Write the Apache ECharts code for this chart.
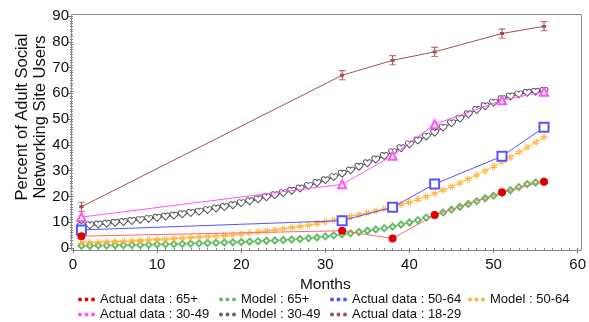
<!DOCTYPE html>
<html>
<head>
<meta charset="utf-8">
<script src="https://cdn.jsdelivr.net/npm/echarts@6/dist/echarts.min.js"></script>
<style>html,body{margin:0;padding:0;background:#fff}#c{width:589px;height:322px}</style>
</head>
<body>
<div id="c"></div>
<script>
// ---- data ----
var surveyMonths = [1, 32, 38, 43, 51, 56];
var modelMonths = [1,2,3,4,5,6,7,8,9,10,11,12,13,14,15,16,17,18,19,20,21,22,23,24,25,26,27,28,
  29,30,31,32,33,34,35,36,37,38,39,40,41,42,43,44,45,46,47,48,49,50,51,52,53,54,55,56];

var actual65 = [4.6, 6.7, 3.7, 12.8, 21.6, 25.7];
var actual5064 = [7.0, 10.6, 15.8, 24.8, 35.6, 46.8];
var actual3049 = [12.0, 24.7, 35.8, 48.0, 57.3, 60.6];
var actual1829 = [16.0, 67.0, 72.8, 76.1, 83.2, 86.0];

var model65 = [0.9,0.9,1.0,1.0,1.1,1.1,1.2,1.2,1.3,1.4,1.5,1.5,1.6,1.7,1.8,1.9,2.0,2.1,2.2,2.3,
  2.5,2.6,2.8,2.9,3.1,3.3,3.5,3.8,4.1,4.5,4.9,5.3,5.7,6.2,6.7,7.2,7.7,8.3,9.1,9.9,10.8,11.8,
  12.8,13.8,14.9,16.0,17.1,18.2,19.3,20.3,21.3,22.4,23.6,24.8,25.4,25.8];
var model5064 = [2.0,2.1,2.2,2.4,2.5,2.6,2.8,2.9,3.1,3.3,3.4,3.6,3.8,4.0,4.2,4.4,4.6,4.8,5.1,5.4,
  5.8,6.2,6.6,7.0,7.4,7.9,8.4,8.9,9.5,10.1,10.8,11.5,12.2,12.9,13.6,14.4,15.1,15.9,16.8,17.7,
  18.8,19.9,21.2,22.5,23.8,25.2,26.7,28.3,29.9,31.6,33.4,35.2,37.1,39.0,41.0,43.0];
var model3049 = [8.5,8.8,9.1,9.4,9.8,10.1,10.5,10.9,11.3,11.7,12.2,12.6,13.1,13.6,14.1,14.7,15.3,
  15.9,16.6,17.4,18.1,18.9,19.7,20.5,21.3,22.2,23.1,24.1,25.2,26.3,27.5,28.8,30.1,31.5,32.9,34.3,
  35.7,37.2,38.7,40.2,41.7,43.2,44.7,46.7,48.4,50.2,51.9,53.5,55.0,56.4,57.7,58.8,59.6,60.2,60.6,60.9];

var seriesNames = ['Actual data : 65+', 'Model : 65+', 'Actual data : 50-64', 'Model : 50-64',
  'Actual data : 30-49', 'Model : 30-49', 'Actual data : 18-29'];
var xLabelTicks = [0, 10, 20, 30, 40, 50, 60];
var yLabelTicks = [0, 10, 20, 30, 40, 50, 60, 70, 80, 90];
var yTitle = 'Percent of Adult Social\nNetworking Site Users';
var xTitle = 'Months';

// ---- helpers ----
function pairs(xs, ys) { return xs.map(function (x, i) { return [x, ys[i]]; }); }

var FONT = '"Liberation Sans", Arial, sans-serif';
var heart = 'path://M10,18 L2.2,9.8 C-0.8,6.5 0.8,1 5,1 C7.4,1 9,2.4 10,4 C11,2.4 12.6,1 15,1 C19.2,1 20.8,6.5 17.8,9.8 Z';
var hash = 'path://M3,0h1.3v10h-1.3z M5.7,0h1.3v10h-1.3z M0,3h10v1.3h-10z M0,5.7h10v1.3h-10z';
var errBar = 'path://M1,0h8v1.2h-8z M4.4,0h1.2v14h-1.2z M1,12.8h8v1.2h-8z M2.6,5h4.8v4h-4.8z';
var dots = 'path://M2,0A2,2 0 1,1 2,4A2,2 0 1,1 2,0Z M8.5,0A2,2 0 1,1 8.5,4A2,2 0 1,1 8.5,0Z M15,0A2,2 0 1,1 15,4A2,2 0 1,1 15,0Z';

var colors = ['#e00000', '#66bb66', '#5555ff', '#ffb43c', '#ff55ff', '#666666', '#a85050'];

var chart = echarts.init(document.getElementById('c'), null, { renderer: 'canvas' });

function legendBlock(left, names) {
  return {
    orient: 'vertical', left: left, top: 292, itemGap: 0, itemWidth: 17, itemHeight: 4,
    padding: 0, selectedMode: false,
    textStyle: { fontFamily: FONT, fontSize: 13, color: '#111', lineHeight: 15 },
    data: names.map(function (n) {
      var i = seriesNames.indexOf(n);
      return { name: n, icon: dots, itemStyle: { color: colors[i], borderWidth: 0 } };
    })
  };
}

var option = {
  animation: false,
  backgroundColor: '#fff',
  grid: { left: 73, right: 8, top: 16, bottom: 74, containLabel: false },
  xAxis: {
    type: 'value', min: 0, max: 60, interval: 10, offset: 3,
    name: xTitle, nameLocation: 'middle', nameGap: 23,
    nameTextStyle: { fontFamily: FONT, fontSize: 15.5, color: '#111' },
    axisLine: { show: false },
    axisTick: { show: true, length: 5, lineStyle: { color: '#777' } },
    minorTick: { show: true, splitNumber: 10, length: 3, lineStyle: { color: '#888' } },
    splitLine: { show: false },
    axisLabel: { fontFamily: FONT, fontSize: 15, color: '#111', margin: 6,
      formatter: function (v) { return xLabelTicks.indexOf(v) >= 0 ? String(v) : ''; } }
  },
  yAxis: {
    type: 'value', min: 0, max: 90, interval: 10, offset: 1,
    axisLine: { show: false },
    axisTick: { show: true, length: 5, lineStyle: { color: '#777' } },
    minorTick: { show: true, splitNumber: 10, length: 3, lineStyle: { color: '#888' } },
    splitLine: { show: false },
    axisLabel: { fontFamily: FONT, fontSize: 15, color: '#111', margin: 3,
      formatter: function (v) { return yLabelTicks.indexOf(v) >= 0 ? String(v) : ''; } }
  },
  legend: [
    legendBlock(78, [seriesNames[0], seriesNames[4]]),
    legendBlock(219, [seriesNames[1], seriesNames[5]]),
    legendBlock(330, [seriesNames[2], seriesNames[6]]),
    legendBlock(468, [seriesNames[3]])
  ],
  graphic: [
    { type: 'rect', z: 10, silent: true,
      shape: { x: 71.5, y: 14.5, width: 510, height: 236 },
      style: { fill: 'none', stroke: '#8a8a8a', lineWidth: 1 } },
    { type: 'text', x: 31, y: 117, rotation: Math.PI / 2, silent: true,
      style: { text: yTitle, font: '16.5px ' + FONT, fontSize: 16.5, fontFamily: FONT,
        fill: '#111', textAlign: 'center', textVerticalAlign: 'middle',
        align: 'center', verticalAlign: 'middle', lineHeight: 18 } }
  ],
  series: [
    { name: seriesNames[1], type: 'line', z: 3, data: pairs(modelMonths, model65),
      symbol: 'emptyDiamond', symbolSize: 6,
      lineStyle: { color: colors[1], width: 1 }, itemStyle: { color: colors[1], borderWidth: 1 } },
    { name: seriesNames[3], type: 'line', z: 3, data: pairs(modelMonths, model5064),
      symbol: hash, symbolSize: 7,
      lineStyle: { color: colors[3], width: 1 }, itemStyle: { color: colors[3] } },
    { name: seriesNames[5], type: 'line', z: 3, data: pairs(modelMonths, model3049),
      symbol: heart, symbolSize: [8, 7],
      lineStyle: { color: '#444', width: 1 }, itemStyle: { color: '#fff', borderColor: '#555', borderWidth: 1 } },
    { name: seriesNames[2], type: 'line', z: 4, data: pairs(surveyMonths, actual5064),
      symbol: 'emptyRect', symbolSize: 9,
      lineStyle: { color: colors[2], width: 1 }, itemStyle: { color: colors[2], borderWidth: 1 } },
    { name: seriesNames[4], type: 'line', z: 4, data: pairs(surveyMonths, actual3049),
      symbol: 'emptyTriangle', symbolSize: 8,
      lineStyle: { color: colors[4], width: 1 }, itemStyle: { color: colors[4], borderWidth: 1 } },
    { name: seriesNames[6], type: 'line', z: 4, data: pairs(surveyMonths, actual1829),
      symbol: errBar, symbolSize: [7, 10],
      lineStyle: { color: colors[6], width: 1 }, itemStyle: { color: colors[6] } },
    { name: seriesNames[0], type: 'line', z: 5, data: pairs(surveyMonths, actual65),
      symbol: 'circle', symbolSize: 8,
      lineStyle: { color: '#ff6a6a', width: 1 }, itemStyle: { color: colors[0] } }
  ]
};
chart.setOption(option);
</script>
</body>
</html>
